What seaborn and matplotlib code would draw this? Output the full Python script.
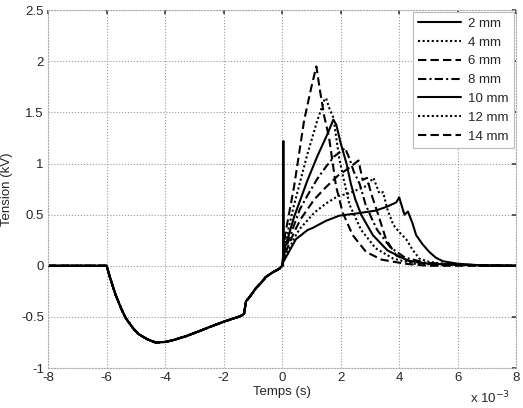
import numpy as np
import pandas as pd
import matplotlib
matplotlib.use("Agg")
import matplotlib.pyplot as plt
import seaborn as sns

# shared negative part (ms, kV) - all gaps give the same pre-discharge curve
neg_x = [-8, -6.0, -5.9, -5.7, -5.5, -5.35, -5.1, -4.9, -4.6, -4.33, -4.0, -3.76, -3.3,
         -2.84, -2.4, -1.93, -1.6, -1.41, -1.3, -1.24, -1.1, -0.9, -0.7, -0.56, -0.3, -0.1, 0.0]
neg_y = [0, 0, -0.1, -0.28, -0.42, -0.51, -0.61, -0.67, -0.72, -0.75, -0.745, -0.73, -0.69,
         -0.64, -0.59, -0.54, -0.51, -0.49, -0.47, -0.35, -0.3, -0.22, -0.16, -0.11, -0.06, -0.03, 0]

labels = ["2 mm", "4 mm", "6 mm", "8 mm", "10 mm", "12 mm", "14 mm"]

x_2 = [0.03, 0.04, 0.05, 0.06, 0.2, 0.47, 0.87, 1.04, 1.5, 1.95, 2.5, 3.2, 3.6, 3.9, 4.0,
       4.18, 4.3, 4.45, 4.58, 4.8, 5.03, 5.25, 5.49, 6.0, 6.5, 7.0, 8.0]
y_2 = [0, 1.22, 0.3, 0.05, 0.12, 0.26, 0.35, 0.37, 0.44, 0.49, 0.51, 0.54, 0.58, 0.62, 0.67,
       0.50, 0.53, 0.42, 0.30, 0.21, 0.135, 0.08, 0.045, 0.02, 0.01, 0.0, 0.0]

x_4 = [0, 0.1, 0.41, 0.6, 1.1, 1.5, 1.9, 2.3, 2.87, 3.12, 3.32, 3.45, 3.6, 3.8, 4.0, 4.24,
       4.45, 4.69, 5.0, 5.5, 6.0, 7.0, 8.0]
y_4 = [0, 0.08, 0.27, 0.36, 0.52, 0.61, 0.68, 0.71, 0.78, 0.86, 0.71, 0.72, 0.55, 0.40, 0.33,
       0.26, 0.16, 0.07, 0.04, 0.02, 0.01, 0, 0]

x_6 = [0, 0.1, 0.41, 0.64, 1.1, 1.5, 1.9, 2.3, 2.61, 2.75, 2.9, 3.05, 3.26, 3.55, 3.9, 4.4,
       5.0, 6.0, 8.0]
y_6 = [0, 0.12, 0.33, 0.46, 0.65, 0.77, 0.88, 0.96, 1.03, 0.84, 0.86, 0.7, 0.52, 0.26, 0.10,
       0.04, 0.02, 0.01, 0]

x_8 = [0, 0.1, 0.41, 0.6, 0.87, 1.2, 1.5, 1.78, 2.15, 2.3, 2.45, 2.65, 2.85, 3.05, 3.25, 3.7,
       4.2, 4.9, 6.0, 8.0]
y_8 = [0, 0.15, 0.4, 0.55, 0.69, 0.85, 0.97, 1.07, 1.15, 1.05, 0.92, 0.8, 0.6, 0.47, 0.35,
       0.18, 0.08, 0.03, 0.01, 0]

x_10 = [0, 0.1, 0.41, 0.87, 1.2, 1.55, 1.75, 1.85, 2.0, 2.2, 2.35, 2.5, 2.7, 3.1, 3.6, 4.3,
        5.0, 6.0, 8.0]
y_10 = [0, 0.18, 0.48, 0.84, 1.07, 1.29, 1.43, 1.38, 1.2, 1.0, 0.8, 0.65, 0.5, 0.3, 0.15, 0.05,
        0.02, 0.01, 0]

x_12 = [0, 0.1, 0.41, 0.87, 1.2, 1.44, 1.5, 1.6, 1.75, 1.95, 2.1, 2.3, 2.7, 3.2, 3.8, 4.5,
        5.5, 8.0]
y_12 = [0, 0.22, 0.6, 1.1, 1.42, 1.62, 1.64, 1.55, 1.45, 1.05, 0.85, 0.6, 0.35, 0.17, 0.07,
        0.02, 0.01, 0]

x_14 = [0, 0.1, 0.41, 0.75, 1.0, 1.17, 1.3, 1.44, 1.6, 1.84, 2.07, 2.41, 2.87, 3.4, 4.2,
        5.0, 8.0]
y_14 = [0, 0.3, 0.78, 1.42, 1.75, 1.95, 1.7, 1.46, 1.26, 0.78, 0.52, 0.30, 0.135, 0.06, 0.02,
        0.0, 0]

pos_x = [x_2, x_4, x_6, x_8, x_10, x_12, x_14]
pos_y = [y_2, y_4, y_6, y_8, y_10, y_12, y_14]

styles = {
    "2 mm": "-", "4 mm": (0, (1, 1.2)), "6 mm": (0, (4, 2)), "8 mm": (0, (4, 1.5, 1, 1.5)),
    "10 mm": "-", "12 mm": (0, (1, 1.2)), "14 mm": (0, (4, 2)),
}

sns.set_theme(style="white")
plt.rcParams['font.family'] = ['Liberation Sans', 'DejaVu Sans']
plt.rcParams['axes.unicode_minus'] = False

fig = plt.figure(figsize=(5.23, 4.08), dpi=100)
ax = fig.add_axes([0.092, 0.098, 0.895, 0.877])

for lab, px, py in zip(labels, pos_x, pos_y):
    df = pd.DataFrame({"t": neg_x + px, "v": neg_y + py})
    sns.lineplot(data=df, x="t", y="v", ax=ax, color="black", linewidth=1.5,
                 linestyle=styles[lab], estimator=None, sort=False, label=lab)

ax.set_xlim(-8, 8)
ax.set_ylim(-1, 2.5)
ax.set_xticks(np.arange(-8, 9, 2))
ax.set_yticks([-1, -0.5, 0, 0.5, 1, 1.5, 2, 2.5])
ax.set_yticklabels(["-1", "-0.5", "0", "0.5", "1", "1.5", "2", "2.5"])
ax.grid(True, color="#999999", linestyle=":", linewidth=0.8)
for s in ax.spines.values():
    s.set_color("#aaaaaa")
    s.set_linestyle(":")
    s.set_linewidth(0.8)
ax.tick_params(direction="in", length=3, labelsize=9.5, color="#444444",
               top=True, right=True, pad=3)

ax.set_xlabel("Temps (s)", fontsize=9.5, labelpad=1)
ax.set_ylabel("Tension (kV)", fontsize=9.5, labelpad=6)
fig.text(0.975, 0.003, r"x 10$^{-3}$", ha="right", va="bottom", fontsize=9.5)

leg = ax.legend(loc="upper right", fontsize=9.5, handlelength=3.2, labelspacing=0.5,
                borderaxespad=0.15, fancybox=False, framealpha=1, handletextpad=0.6)
leg.get_frame().set_edgecolor("#bbbbbb")
leg.get_frame().set_linewidth(0.8)

plt.savefig("out.png", dpi=100)
plt.close()
